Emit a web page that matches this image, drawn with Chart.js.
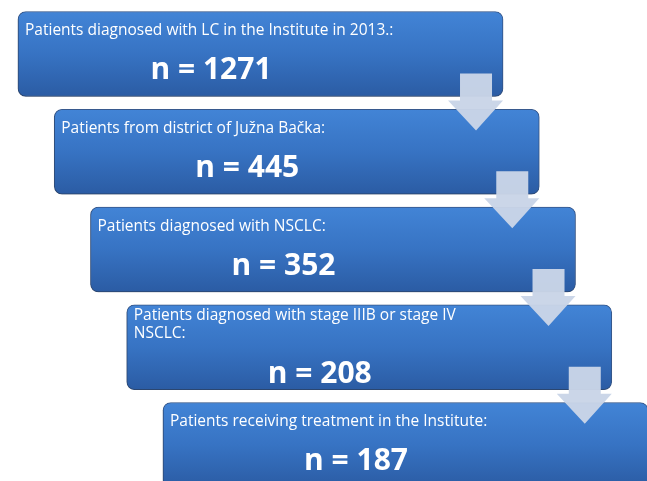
<!DOCTYPE html>
<html>
<head>
<meta charset="utf-8">
<script src="https://cdn.jsdelivr.net/npm/chart.js@4/dist/chart.umd.min.js"></script>
<style>
  html, body { margin: 0; padding: 0; background: #ffffff; }
  #wrap { width: 647px; height: 481px; }
</style>
</head>
<body>
<div id="wrap"><canvas id="flow-chart" width="647" height="481"></canvas></div>
<script>
// flow steps (text shown in each box)
let stepLabels = [
  ["Patients diagnosed with LC in the Institute in 2013.:"],
  ["Patients from district of Južna Bačka:"],
  ["Patients diagnosed with NSCLC:"],
  ["Patients diagnosed with stage IIIB or stage IV", "NSCLC:"],
  ["Patients receiving treatment in the Institute:"],
];

let patientCounts = [1271, 445, 352, 208, 187];

// each box is shifted one unit to the right of the previous one
let boxSpan = 13.38;

let boxFill = function (context) {
  let chart = context.chart;
  if (!chart.chartArea || !chart.scales.y) return "#3672c0";
  let yc = chart.scales.y.getPixelForValue(context.dataIndex);
  let g = chart.ctx.createLinearGradient(0, yc - 42, 0, yc + 42);
  g.addColorStop(0, "#4284d6");
  g.addColorStop(0.5, "#3773c3");
  g.addColorStop(1, "#2b5ca4");
  return g;
};

let shadowPlugin = {
  id: "boxShadow",
  beforeDatasetsDraw: function (chart) {
    let ctx = chart.ctx;
    ctx.save();
    ctx.shadowColor = "rgba(0,0,0,0.35)";
    ctx.shadowBlur = 5;
    ctx.shadowOffsetX = -1;
    ctx.shadowOffsetY = 2;
  },
  afterDatasetsDraw: function (chart) {
    chart.ctx.restore();
  },
};

let textAndArrows = {
  id: "textAndArrows",
  afterDatasetsDraw: function (chart) {
    let ctx = chart.ctx;
    let bars = chart.getDatasetMeta(0).data;

    // arrows between boxes
    ctx.save();
    ctx.fillStyle = "rgba(201,213,231,0.97)";
    for (let i = 0; i < bars.length - 1; i++) {
      let right = bars[i].x;
      let bottom = bars[i].y + bars[i].height / 2;
      ctx.beginPath();
      ctx.moveTo(right - 43, bottom - 23);
      ctx.lineTo(right - 11, bottom - 23);
      ctx.lineTo(right - 11, bottom + 4);
      ctx.lineTo(right, bottom + 4);
      ctx.lineTo(right - 27, bottom + 34);
      ctx.lineTo(right - 55, bottom + 4);
      ctx.lineTo(right - 43, bottom + 4);
      ctx.closePath();
      ctx.fill();
    }
    ctx.restore();

    // box text
    ctx.save();
    ctx.fillStyle = "#ffffff";
    ctx.textBaseline = "alphabetic";
    bars.forEach(function (bar, i) {
      let left = bar.base;
      let top = bar.y - bar.height / 2;
      let lines = stepLabels[i];
      let twoLines = lines.length > 1;
      ctx.font = "15.5px 'Open Sans'";
      ctx.textAlign = "left";
      lines.forEach(function (line, k) {
        ctx.fillText(line, left + 7, top + (twoLines ? 15 : 24) + k * 18);
      });
      ctx.font = "bold 30px 'Open Sans'";
      ctx.textAlign = "center";
      ctx.fillText("n = " + patientCounts[i], left + 193, top + (twoLines ? 78 : 68));
    });
    ctx.restore();
  },
};

let chartDraw = function () {
  let ctx = document.getElementById("flow-chart").getContext("2d");

  new Chart(ctx, {
    type: "bar",
    data: {
      labels: stepLabels.map(function (l) { return l.join(" "); }),
      datasets: [
        {
          data: patientCounts.map(function (n, i) {
            return { y: i, x: [i, i + boxSpan] };
          }),
          backgroundColor: boxFill,
          borderColor: "rgba(38,78,140,0.9)",
          borderWidth: 1,
          borderSkipped: false,
          borderRadius: 8,
          barThickness: 85,
        },
      ],
    },
    options: {
      indexAxis: "y",
      responsive: false,
      animation: false,
      layout: { padding: 0 },
      scales: {
        x: { type: "linear", min: -0.4966, max: 17.352, display: false },
        y: { type: "linear", min: -0.5524, max: 4.3683, reverse: true, offset: false, display: false },
      },
      plugins: {
        legend: { display: false },
        tooltip: { enabled: false },
      },
    },
    plugins: [shadowPlugin, textAndArrows],
  });
};

window.onload = function () {
  chartDraw();
};
</script>
</body>
</html>
